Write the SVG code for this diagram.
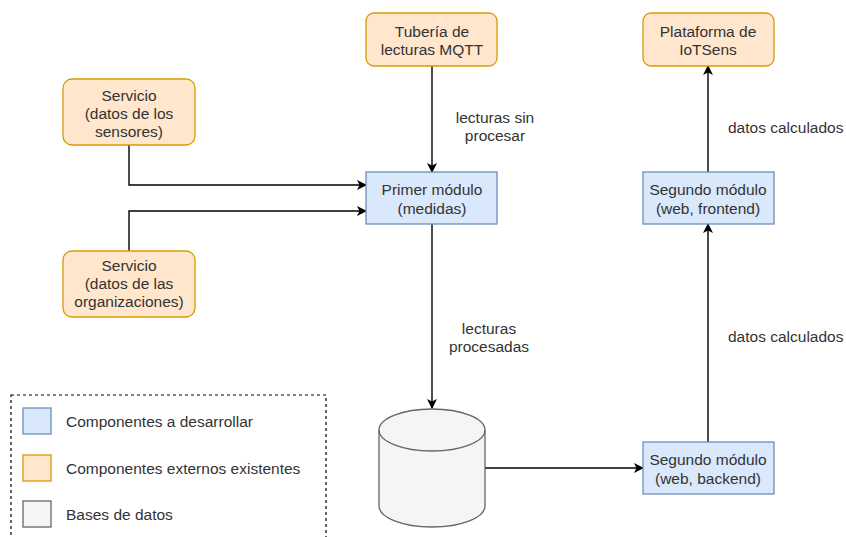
<svg xmlns="http://www.w3.org/2000/svg" width="846" height="537" viewBox="0 0 846 537">
<defs>
<style>
text{font-family:"Liberation Sans",Arial,sans-serif;font-size:15.5px;fill:#333333;text-anchor:middle;dominant-baseline:central}
.lt{text-anchor:start}
.blue{fill:#dae8fc;stroke:#6c8ebf;stroke-width:1.3}
.orange{fill:#ffe6cc;stroke:#d79b00;stroke-width:1.3}
.gray{fill:#f5f5f5;stroke:#666666;stroke-width:1.3}
.edge{fill:none;stroke:#000;stroke-width:1.4;marker-end:url(#arr)}
</style>
<marker id="arr" viewBox="0 0 10 10" refX="9" refY="5" markerWidth="10" markerHeight="10" markerUnits="userSpaceOnUse" orient="auto">
<path d="M0,0 L10,5 L0,10 L2.5,5 Z" fill="#000"/>
</marker>
</defs>
<rect width="846" height="537" fill="#ffffff"/>

<g id="connectors">
<path class="edge" d="M432,66 V172"/>
<path class="edge" d="M129,145 V185 H366"/>
<path class="edge" d="M129,251 V211 H366"/>
<path class="edge" d="M432,224 V408"/>
<path class="edge" d="M485,468 H643"/>
<path class="edge" d="M708,442 V224"/>
<path class="edge" d="M708,172 V66"/>
<text x="495" y="117">lecturas sin</text>
<text x="495" y="135">procesar</text>
<text x="489" y="328">lecturas</text>
<text x="489" y="346">procesadas</text>
<text class="lt" x="728" y="127">datos calculados</text>
<text class="lt" x="728" y="336">datos calculados</text>
</g>

<g id="tuberia">
<rect class="orange" x="366" y="13" width="131" height="53" rx="8"/>
<text x="432" y="31">Tubería de</text>
<text x="432" y="49">lecturas MQTT</text>
</g>

<g id="plataforma">
<rect class="orange" x="643" y="13" width="131" height="53" rx="8"/>
<text x="708" y="31">Plataforma de</text>
<text x="708" y="49">IoTSens</text>
</g>

<g id="servicio-sensores">
<rect class="orange" x="63" y="79" width="132" height="66" rx="9"/>
<text x="129" y="95">Servicio</text>
<text x="129" y="113">(datos de los</text>
<text x="129" y="131">sensores)</text>
</g>

<g id="servicio-organizaciones">
<rect class="orange" x="63" y="251" width="132" height="66" rx="9"/>
<text x="129" y="265">Servicio</text>
<text x="129" y="283">(datos de las</text>
<text x="129" y="301">organizaciones)</text>
</g>

<g id="primer-modulo">
<rect class="blue" x="366" y="172" width="131" height="52"/>
<text x="432" y="189">Primer módulo</text>
<text x="432" y="208">(medidas)</text>
</g>

<g id="segundo-frontend">
<rect class="blue" x="643" y="172" width="131" height="52"/>
<text x="708" y="189">Segundo módulo</text>
<text x="708" y="208">(web, frontend)</text>
</g>

<g id="segundo-backend">
<rect class="blue" x="643" y="442" width="131" height="52"/>
<text x="708" y="459">Segundo módulo</text>
<text x="708" y="478">(web, backend)</text>
</g>

<g id="base-datos">
<path class="gray" d="M379,430 A53,21 0 0 1 485,430 V506 A53,21 0 0 1 379,506 Z"/>
<path d="M379,430 A53,21 0 0 0 485,430" fill="none" stroke="#666666" stroke-width="1.3"/>
</g>

<g id="leyenda">
<rect x="11" y="395" width="315" height="160" fill="none" stroke="#000" stroke-width="1.2" stroke-dasharray="3,3"/>
<rect class="blue" x="23" y="408" width="28" height="26"/>
<text class="lt" x="66" y="421">Componentes a desarrollar</text>
<rect class="orange" x="23" y="455" width="28" height="26"/>
<text class="lt" x="66" y="468">Componentes externos existentes</text>
<rect class="gray" x="23" y="501" width="28" height="26"/>
<text class="lt" x="66" y="514">Bases de datos</text>
</g>
</svg>
